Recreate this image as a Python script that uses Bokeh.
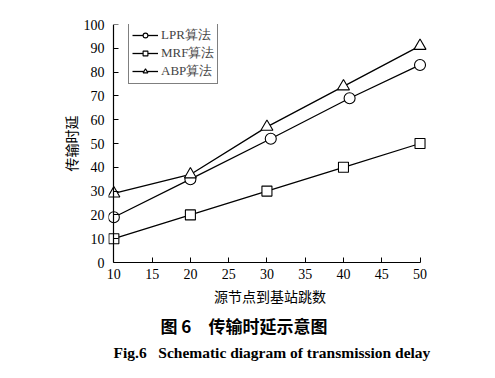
from bokeh.plotting import figure
from bokeh.models import Range1d, SingleIntervalTicker, Legend, LegendItem, Title, LinearAxis
from bokeh.embed import file_html
from bokeh.resources import INLINE

hops = [10, 20, 30, 40, 50]
lpr_x = [10, 20, 30.5, 40.8, 50]
lpr = [19, 35, 52, 69, 83]
mrf = [10, 20, 30, 40, 50]
abp = [29, 37, 57, 74, 91]
names = ["LPR算法", "MRF算法", "ABP算法"]
xlabel = "源节点到基站跳数"
ylabel = "传输时延"
cap_cn = "图 6\u3000传输时延示意图"
cap_en = "Fig.6\u00a0\u00a0 Schematic diagram of transmission delay"

SERIF = "Liberation Serif"
CJK = "Noto Sans CJK SC"

p = figure(width=479, height=362, output_backend="svg", toolbar_location=None,
           x_range=Range1d(9.3, 51.5), y_range=Range1d(0, 100),
           min_border_left=108, min_border_right=48, min_border_top=24, min_border_bottom=96)
p.outline_line_color = None
p.grid.visible = False
p.background_fill_color = "white"

for ax in (p.xaxis[0], p.yaxis[0]):
    ax.major_tick_in = 5
    ax.major_tick_out = 0
    ax.minor_tick_line_color = None
    ax.axis_line_color = "black"
    ax.axis_line_width = 1.2
    ax.major_tick_line_color = "black"
    ax.major_label_text_font = SERIF
    ax.major_label_text_font_size = "14px"
    ax.major_label_text_color = "black"
    ax.axis_label_text_font = CJK
    ax.axis_label_text_font_size = "14px"
    ax.axis_label_text_font_style = "normal"
    ax.axis_label_text_color = "black"
p.xaxis.ticker = SingleIntervalTicker(interval=5)
p.yaxis.ticker = SingleIntervalTicker(interval=10)
p.xaxis.bounds = (10, 50)
p.xaxis.major_label_standoff = 2
p.xaxis.axis_label = xlabel
p.xaxis.axis_label_standoff = 4

# left axis carries only the labels (frame edge sits a little left of x=10)
p.yaxis.axis_line_color = None
p.yaxis.major_tick_line_color = None
p.yaxis.major_label_standoff = 0
p.yaxis.axis_label = ylabel
p.yaxis.axis_label_standoff = 0

# axis line + inner ticks drawn at x = 10
yline = LinearAxis(fixed_location=hops[0], ticker=SingleIntervalTicker(interval=10),
                   major_tick_in=5, major_tick_out=0, minor_tick_line_color=None,
                   axis_line_color="black", axis_line_width=1.2,
                   major_tick_line_color="black", major_label_text_color=None)
p.add_layout(yline, "left")

lw = 1.3
r1 = p.line(lpr_x, lpr, color="black", line_width=lw)
m1 = p.scatter(lpr_x, lpr, marker="circle", size=11, fill_color="white", line_color="black", line_width=1.1)
r2 = p.line(hops, mrf, color="black", line_width=lw)
m2 = p.scatter(hops, mrf, marker="square", size=10, fill_color="white", line_color="black", line_width=1.1)
r3 = p.line(hops, abp, color="black", line_width=lw)
m3 = p.scatter(hops, abp, marker="triangle", size=12, fill_color="white", line_color="black", line_width=1.1)

legend = Legend(items=[LegendItem(label=names[0], renderers=[r1, m1]),
                       LegendItem(label=names[1], renderers=[r2, m2]),
                       LegendItem(label=names[2], renderers=[r3, m3])],
                location=(20, 178), border_line_color="black", border_line_width=1.2,
                label_text_font=SERIF, label_text_font_size="13px",
                glyph_width=26, glyph_height=12, spacing=0, padding=3,
                label_standoff=3, margin=0)
legend.label_height = 12
p.add_layout(legend, "center")

t1 = Title(text=cap_cn, text_font=CJK, text_font_size="17px", text_font_style="bold",
           align="left", offset=52, text_color="black", standoff=4)
t2 = Title(text=cap_en, text_font=SERIF, text_font_size="15.5px", text_font_style="bold",
           align="left", offset=5, text_color="black", standoff=4)
p.add_layout(t1, "below")
p.add_layout(t2, "below")

open("out.html", "w").write(file_html(p, INLINE))
